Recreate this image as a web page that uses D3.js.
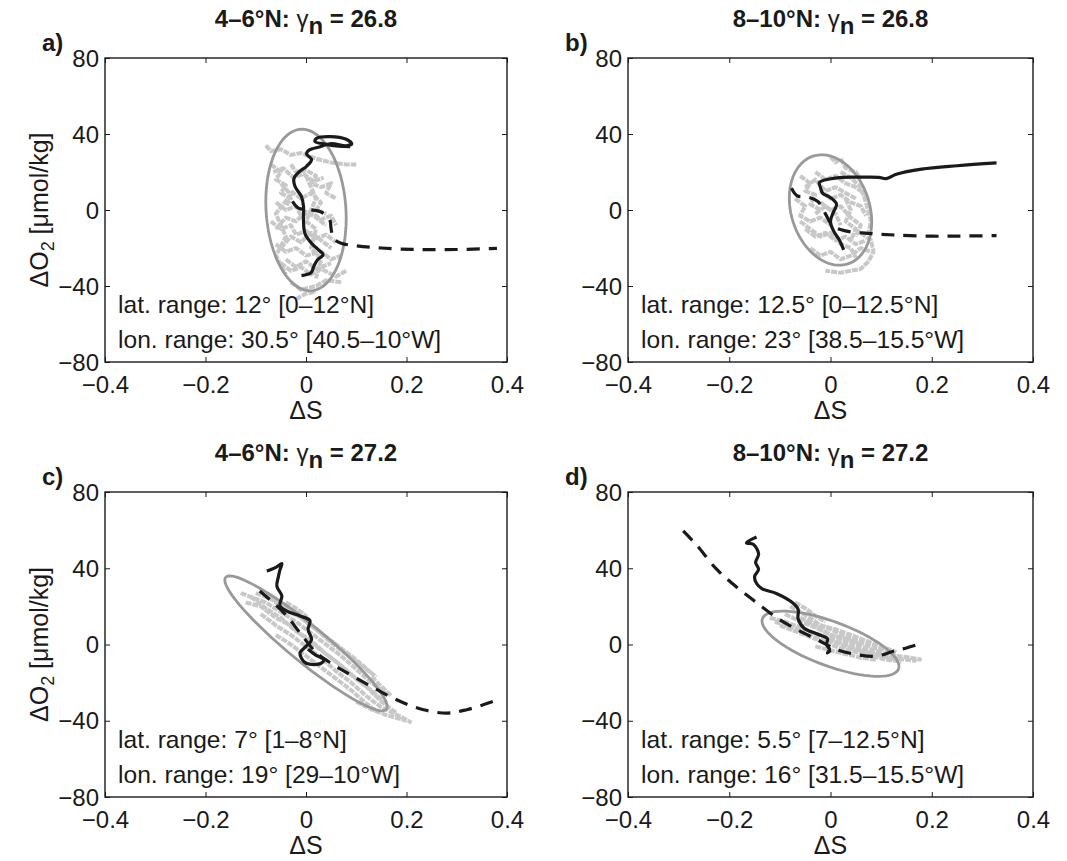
<!DOCTYPE html>
<html>
<head>
<meta charset="utf-8">
<script src="https://cdn.jsdelivr.net/npm/d3@7"></script>
<style>
body{margin:0;background:#fff}
text{font-family:"Liberation Sans",Arial,Helvetica,sans-serif;fill:#1a1a1a}
.tick text{font-size:24px}
.axlab{font-size:25px}
.note{font-size:24.6px}
.title{font-size:24px;font-weight:bold}
.plab{font-size:24px;font-weight:bold}
</style>
</head>
<body>
<svg id="fig" width="1067" height="861"></svg>
<script>

// axis ranges and ticks (same for every panel)
var xDomain=[-0.4,0.4], yDomain=[-80,80];
var xTicks=[-0.4,-0.2,0,0.2,0.4];
var yTicks=[-80,-40,0,40,80];

var panelIds=["a","b","c","d"];
var titleBand=["4\u20136\u00b0N","8\u201310\u00b0N","4\u20136\u00b0N","8\u201310\u00b0N"];
var titleGamma=["26.8","26.8","27.2","27.2"];
var latText=["lat. range: 12\u00b0 [0\u201312\u00b0N]","lat. range: 12.5\u00b0 [0\u201312.5\u00b0N]",
             "lat. range: 7\u00b0 [1\u20138\u00b0N]","lat. range: 5.5\u00b0 [7\u201312.5\u00b0N]"];
var lonText=["lon. range: 30.5\u00b0 [40.5\u201310\u00b0W]","lon. range: 23\u00b0 [38.5\u201315.5\u00b0W]",
             "lon. range: 19\u00b0 [29\u201310\u00b0W]","lon. range: 16\u00b0 [31.5\u201315.5\u00b0W]"];

// ellipse: centre and two conjugate semi-axis vectors (data units)
var ellCenter=[[0,0],[0,0],[0,0.6],[0,0.4]];
var ellAxisA=[[0.08,-4.3],[0.0814,-6.2],[0.1616,-33.2],[0.1353,-11.9]];
var ellAxisB=[[0,42.3],[0,28.4],[0,12.2],[0,12.3]];

// black solid lines
var solidA=[[-0.009,-34.5],[0.01,-33],[0.015,-30],[0.022,-26.5],[0.034,-23.5],[0.025,-21],[0.011,-17.5],[-0.002,-12.5],
  [-0.005,-5.5],[-0.005,2],[-0.009,7],[-0.022,12.5],[-0.024,16.5],[-0.014,20],[0.001,23],[0.011,26.5],[0.001,29.5],
  [0.006,31.5],[0.028,33.3],[0.05,35],[0.08,33.8],[0.091,34.8],[0.08,37.2],[0.048,38.6],[0.021,37.7],[0.018,36],
  [0.038,34.7],[0.06,33.7],[0.088,33.4]];
var solidB=[[0.026,-21],[0.018,-16],[0.006,-11],[0.0,-6],[0.006,-1],[0.012,3],[0.0,6.5],[-0.016,9],[-0.02,12],
  [-0.022,14.5],[-0.002,16.3],[0.023,17.2],[0.06,17.3],[0.095,17.2],[0.11,16.5],[0.13,18.8],[0.18,21.5],[0.25,23.3],[0.328,24.8]];
var solidC=[[-0.078,38.5],[-0.06,40.5],[-0.048,42.5],[-0.052,39],[-0.055,35.5],[-0.058,30.5],[-0.048,25.5],[-0.052,20.5],
  [-0.038,17.5],[-0.012,15],[0.008,12.5],[0.004,8],[0.011,2.5],[0.0,-1],[-0.012,-4.5],[-0.002,-9.5],[0.012,-10.5],
  [0.032,-9.5],[0.035,-8],[0.018,-5.3],[0.004,-2.5]];
var solidD=[[-0.146,56.4],[-0.166,53.3],[-0.152,52.5],[-0.142,47.5],[-0.148,43],[-0.142,39.5],[-0.15,35.5],[-0.146,32],
  [-0.135,29.2],[-0.107,26.8],[-0.078,22.5],[-0.064,18.5],[-0.064,13.5],[-0.052,8.5],[-0.026,5.5],[-0.006,3],[-0.008,0],
  [-0.002,-2.5],[-0.006,-4.5],[0.0,-3]];

// black dashed lines
var dashedA=[[-0.027,4.5],[-0.015,1],[0.008,0.2],[0.03,-1],[0.047,-5],[0.05,-10],[0.055,-15],[0.07,-17.5],[0.1,-18.8],
  [0.15,-20],[0.22,-20.8],[0.3,-20.8],[0.38,-20.2]];
var dashedB=[[-0.077,11.5],[-0.066,7.5],[-0.045,6.8],[-0.025,4.5],[-0.01,-2],[0.005,-8.5],[0.03,-11],[0.08,-12.4],
  [0.13,-13.2],[0.2,-13.8],[0.26,-13.7],[0.328,-13.5]];
var dashedC=[[-0.092,28.1],[-0.065,21.9],[-0.038,14.9],[-0.012,6.1],[0.021,-4.4],[0.054,-10.5],[0.094,-16.7],[0.141,-23.7],
  [0.187,-29.8],[0.234,-34.2],[0.28,-36],[0.32,-34.2],[0.379,-29.3]];
var dashedD=[[-0.291,59.6],[-0.264,52],[-0.225,39.5],[-0.185,30],[-0.146,22],[-0.106,14],[-0.067,8],[-0.027,2.6],
  [0.012,-2.6],[0.052,-5.3],[0.091,-6.1],[0.124,-3.5],[0.15,-1.8],[0.183,0.8]];

// grey float tracks
var cloudA=[
  [[-0.08,34],[-0.07,31],[-0.05,32],[-0.03,29],[-0.01,30],[0.02,27],[0.05,25],[0.08,24],[0.1,24]],
  [[-0.07,24],[-0.05,20],[-0.06,16],[-0.04,13],[-0.05,9],[-0.03,6],[-0.04,2]],
  [[-0.03,24],[-0.02,20],[0.0,21],[0.02,18],[0.01,14],[0.03,12],[0.05,14],[0.04,9],[0.06,6]],
  [[-0.06,4],[-0.04,0],[-0.02,2],[-0.01,-3],[0.01,-1],[0.03,-5],[0.05,-3],[0.06,-8]],
  [[-0.07,-6],[-0.05,-10],[-0.03,-8],[-0.02,-13],[0.0,-11],[0.02,-15],[0.04,-13],[0.06,-17]],
  [[-0.06,-18],[-0.04,-22],[-0.02,-20],[0.0,-24],[0.03,-22],[0.05,-26],[0.07,-24]],
  [[-0.05,-28],[-0.03,-32],[-0.01,-30],[0.01,-34],[0.03,-31],[0.06,-35],[0.08,-32]],
  [[-0.03,-38],[-0.01,-42],[0.02,-40],[0.04,-37],[0.07,-38]],
  [[-0.02,-47],[0.0,-44],[0.02,-43]],
  [[-0.03,10],[-0.01,6],[0.01,9],[0.03,4],[0.02,0],[0.04,-2]],
  [[0.0,18],[0.01,12],[0.02,6],[0.0,-6],[0.02,-10],[0.01,-20],[0.03,-26],[0.02,-36]],
  [[-0.05,14],[-0.03,8],[-0.06,-2],[-0.04,-14],[-0.06,-24],[-0.04,-34]],
  [[-0.065,20],[-0.045,22],[-0.025,17],[-0.005,19],[0.015,15],[0.035,17]],
  [[-0.06,-10],[-0.04,-4],[-0.02,-6],[0.0,-1],[0.02,-4],[0.04,-8]],
  [[-0.05,-20],[-0.03,-14],[-0.01,-17],[0.01,-12],[0.03,-16],[0.05,-20]],
  [[-0.04,-26],[-0.02,-30],[0.0,-27],[0.02,-31],[0.05,-28]]
];
var cloudB=[
  [[0.0,28],[0.01,25],[0.02,27],[0.03,22],[0.05,20],[0.06,16]],
  [[-0.06,18],[-0.04,14],[-0.05,10],[-0.03,8],[-0.04,3],[-0.02,0]],
  [[-0.03,20],[-0.01,16],[0.01,18],[0.03,14],[0.05,12],[0.07,8]],
  [[-0.07,6],[-0.05,2],[-0.06,-3],[-0.04,-6],[-0.02,-4],[0.0,-8]],
  [[-0.02,10],[0.0,6],[0.02,8],[0.04,4],[0.06,2],[0.07,-3]],
  [[-0.05,-10],[-0.03,-14],[-0.01,-12],[0.01,-16],[0.03,-14],[0.05,-18],[0.07,-16]],
  [[-0.04,-20],[-0.02,-24],[0.0,-22],[0.02,-26],[0.04,-24],[0.06,-20],[0.08,-22]],
  [[0.06,-12],[0.08,-16],[0.085,-22],[0.075,-27],[0.06,-31],[0.04,-32],[0.02,-33],[-0.01,-32]],
  [[0.03,6],[0.04,0],[0.03,-6],[0.05,-10],[0.04,-16]],
  [[-0.03,-2],[-0.01,2],[0.01,-2],[0.02,-8]],
  [[-0.05,12],[-0.03,16],[-0.01,10],[0.01,12],[0.03,9],[0.05,6]],
  [[-0.06,-6],[-0.04,-10],[-0.02,-14],[0.0,-12],[0.02,-18],[0.04,-20],[0.05,-25]],
  [[-0.02,4],[0.0,0],[0.02,2],[0.04,-4],[0.06,-8],[0.05,-14]],
  [[0.02,20],[0.04,17],[0.06,12],[0.07,4],[0.08,-6],[0.075,-12]]
];
var cloudC=[
  [[-0.13,27],[-0.1,24],[-0.08,22],[-0.05,17],[-0.02,12],[0.01,6],[0.04,0],[0.07,-6],[0.1,-13],[0.13,-20],[0.16,-26]],
  [[-0.12,22],[-0.09,20],[-0.06,14],[-0.03,10],[0.0,3],[0.03,-3],[0.06,-9],[0.09,-16],[0.12,-22],[0.15,-30],[0.18,-36]],
  [[-0.1,27],[-0.07,24],[-0.04,18],[-0.01,14],[0.02,8],[0.05,1],[0.08,-5],[0.11,-11],[0.14,-17]],
  [[-0.09,16],[-0.06,10],[-0.03,5],[0.0,-1],[0.03,-7],[0.06,-14],[0.09,-20],[0.12,-27],[0.15,-33],[0.19,-38],[0.21,-41]],
  [[-0.04,22],[-0.02,19],[0.0,15],[-0.03,20]],
  [[-0.06,5],[-0.03,0],[0.0,-6],[0.03,-12],[0.06,-18],[0.09,-24],[0.12,-31],[0.14,-35]],
  [[0.1,-30],[0.13,-34],[0.16,-37],[0.2,-40]],
  [[0.13,-17],[0.15,-22],[0.17,-27]],
  [[-0.11,25],[-0.08,19],[-0.05,14],[-0.02,7],[0.01,2],[0.04,-5],[0.07,-11],[0.1,-18],[0.13,-24],[0.16,-31]],
  [[-0.08,26],[-0.05,21],[-0.02,16],[0.01,10],[0.04,4],[0.07,-2],[0.1,-8],[0.13,-15]]
];
var cloudD=[
  [[-0.12,14],[-0.09,12],[-0.06,9],[-0.03,6],[0.0,3],[0.03,0],[0.06,-3],[0.09,-5],[0.12,-7]],
  [[-0.1,10],[-0.07,7],[-0.04,4],[-0.01,1],[0.02,-2],[0.05,-4],[0.08,-6],[0.11,-8],[0.14,-9]],
  [[-0.08,20],[-0.06,17],[-0.04,14],[-0.02,10],[0.01,8],[0.04,5],[0.07,2],[0.1,-1],[0.13,-4]],
  [[-0.07,22],[-0.05,19],[-0.03,15],[-0.01,12]],
  [[-0.05,12],[-0.02,8],[0.01,4],[0.04,1],[0.07,-2],[0.1,-4],[0.13,-6],[0.16,-7],[0.18,-8]],
  [[-0.03,-1],[0.0,-3],[0.03,-5],[0.06,-7],[0.09,-8]],
  [[0.12,-7],[0.15,-8],[0.17,-8.5]],
  [[-0.11,12],[-0.08,9],[-0.05,7],[-0.02,4],[0.01,1],[0.04,-2],[0.07,-4],[0.1,-6],[0.13,-8]],
  [[-0.06,14],[-0.03,11],[0.0,8],[0.03,4],[0.06,1],[0.09,-2],[0.12,-3]],
  [[-0.09,16],[-0.06,12],[-0.03,9],[0.0,5],[0.03,3],[0.06,0]]
];

var solidLines=[solidA,solidB,solidC,solidD];
var dashedLines=[dashedA,dashedB,dashedC,dashedD];
var clouds=[cloudA,cloudB,cloudC,cloudD];

// panel boxes in page pixels
var boxes=[{x:105,y:58,w:402,h:304},{x:628,y:58,w:405,h:304},
           {x:105,y:492,w:402,h:305},{x:628,y:492,w:405,h:305}];

var svg=d3.select("#fig");

function fmt(d){ return d<0 ? "\u2212"+Math.abs(d) : String(d); }

boxes.forEach(function(b,i){
    var g=svg.append("g").attr("transform","translate("+b.x+","+b.y+")");
    var x=d3.scaleLinear().domain(xDomain).range([0,b.w]);
    var y=d3.scaleLinear().domain(yDomain).range([b.h,0]);

    g.append("clipPath").attr("id","clip"+i)
        .append("rect").attr("width",b.w).attr("height",b.h);
    var plot=g.append("g").attr("clip-path","url(#clip"+i+")");

    var line=d3.line().x(function(d){return x(d[0]);}).y(function(d){return y(d[1]);});
    var smooth=d3.line().curve(d3.curveCatmullRom).x(function(d){return x(d[0]);}).y(function(d){return y(d[1]);});

    // grey float tracks
    plot.selectAll(".cloud").data(clouds[i]).enter().append("path")
        .attr("class","cloud")
        .attr("d",line)
        .attr("fill","none")
        .attr("stroke","#c8c8c8")
        .attr("stroke-width",4)
        .attr("stroke-dasharray","6 1")
        .attr("stroke-linejoin","round");

    // ellipse outline from centre + conjugate axes
    var c=ellCenter[i], A=ellAxisA[i], B=ellAxisB[i];
    var ell=d3.range(0,73).map(function(k){
        var t=k/72*2*Math.PI;
        return [c[0]+A[0]*Math.cos(t)+B[0]*Math.sin(t), c[1]+A[1]*Math.cos(t)+B[1]*Math.sin(t)];
    });
    plot.append("path").attr("d",line(ell))
        .attr("fill","none").attr("stroke","#999999").attr("stroke-width",2.8);

    plot.append("path").attr("d",smooth(dashedLines[i]))
        .attr("fill","none").attr("stroke","#1a1a1a").attr("stroke-width",3.2)
        .attr("stroke-dasharray","13 9");

    plot.append("path").attr("d",smooth(solidLines[i]))
        .attr("fill","none").attr("stroke","#1a1a1a").attr("stroke-width",3.2)
        .attr("stroke-linejoin","round");

    // axes: ticks inward on all four sides
    var xb=g.append("g").attr("transform","translate(0,"+b.h+")")
        .call(d3.axisBottom(x).tickValues(xTicks).tickSize(-5).tickSizeOuter(0).tickFormat(fmt));
    xb.selectAll(".tick text").attr("y",31).attr("dy",null);
    var yl=g.append("g")
        .call(d3.axisLeft(y).tickValues(yTicks).tickSize(-5).tickSizeOuter(0).tickFormat(fmt));
    yl.selectAll(".tick text").attr("x",-6).attr("dy","0.34em");
    g.append("g").call(d3.axisTop(x).tickValues(xTicks).tickSize(-5).tickSizeOuter(0).tickFormat(""));
    g.append("g").attr("transform","translate("+b.w+",0)")
        .call(d3.axisRight(y).tickValues(yTicks).tickSize(-5).tickSizeOuter(0).tickFormat(""));
    g.selectAll(".domain").remove();
    g.selectAll(".tick line").attr("stroke","#1a1a1a").attr("stroke-width",1);
    g.selectAll("g").attr("font-family",null).attr("font-size",null);

    g.append("rect").attr("width",b.w).attr("height",b.h)
        .attr("fill","none").attr("stroke","#1a1a1a").attr("stroke-width",1.4);

    // x label
    g.append("text").attr("class","axlab").attr("x",b.w/2).attr("y",b.h+57)
        .attr("text-anchor","middle").text("\u0394S");

    // y label on left column
    if(i%2===0){
        var yt=g.append("text").attr("class","axlab")
            .attr("transform","translate(-57,"+(b.h/2)+") rotate(-90)")
            .attr("text-anchor","middle");
        yt.append("tspan").text("\u0394O");
        yt.append("tspan").attr("font-size","18px").attr("dy",6).text("2");
        yt.append("tspan").attr("dy",-6).text(" [\u03bcmol/kg]");
    }

    // title
    var tt=g.append("text").attr("class","title").attr("x",b.w/2).attr("y",-31)
        .attr("text-anchor","middle");
    tt.append("tspan").text(titleBand[i]+": ");
    tt.append("tspan").attr("font-weight","normal").text("\u03b3");
    tt.append("tspan").attr("dy",7).text("n");
    tt.append("tspan").attr("dy",-7).text(" = "+titleGamma[i]);

    // panel letter
    g.append("text").attr("class","plab").attr("x",-63).attr("y",-7).text(panelIds[i]+")");

    // range notes
    g.append("text").attr("class","note").attr("x",13).attr("y",b.h-49).text(latText[i]);
    g.append("text").attr("class","note").attr("x",13).attr("y",b.h-14).text(lonText[i]);
});
</script>
</body>
</html>
